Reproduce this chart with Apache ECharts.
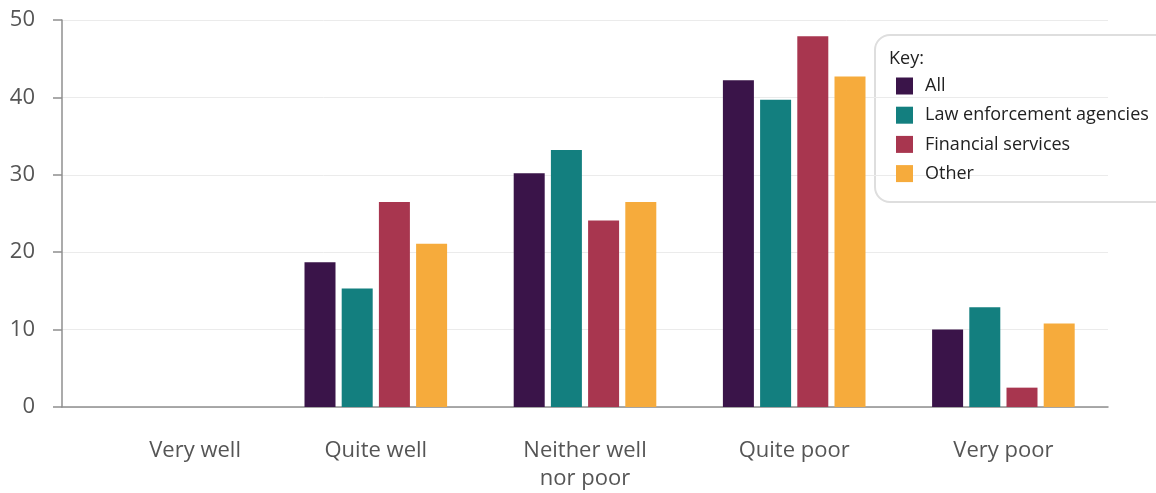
<!DOCTYPE html>
<html>
<head>
<meta charset="utf-8">
<script src="https://cdn.jsdelivr.net/npm/echarts@6/dist/echarts.min.js"></script>
<style>
html,body{margin:0;padding:0;background:#fff;}
#c{width:1156px;height:493px;}
</style>
</head>
<body>
<div id="c"></div>
<script>
var categories = ['Very well', 'Quite well', 'Neither well\nnor poor', 'Quite poor', 'Very poor'];
var seriesNames = ['All', 'Law enforcement agencies', 'Financial services', 'Other'];
var allValues = [0, 18.7, 30.2, 42.2, 10.0];
var lawValues = [0, 15.3, 33.2, 39.7, 12.9];
var finValues = [0, 26.5, 24.1, 47.9, 2.5];
var otherValues = [0, 21.1, 26.5, 42.7, 10.8];
var yTicks = [0, 10, 20, 30, 40, 50];
var colors = ['#3a1449', '#137f7f', '#a8364f', '#f6ab3c'];

var dataSets = [allValues, lawValues, finValues, otherValues];
var font = '"Open Sans", "Noto Sans", sans-serif';

var chart = echarts.init(document.getElementById('c'), null, {renderer: 'canvas'});
chart.setOption({
  animation: false,
  textStyle: {fontFamily: font},
  grid: {left: 62, right: 48, top: 20, bottom: 83, containLabel: false},
  legend: {
    orient: 'vertical',
    left: 896, top: 77,
    itemWidth: 17, itemHeight: 17, itemGap: 11.2,
    icon: 'rect',
    padding: 0,
    textStyle: {fontSize: 18, color: '#222', fontFamily: font, padding: [0, 0, 0, 7]},
    data: seriesNames
  },
  graphic: [
    {type: 'rect', left: 874, top: 34, shape: {width: 300, height: 167, r: 15},
     style: {fill: '#fff', stroke: '#dedede', lineWidth: 2}, z: -1, silent: true},
    {type: 'text', left: 889, top: 50, style: {text: 'Key:', fontSize: 18, fill: '#222', fontFamily: font}, z: 10}
  ],
  xAxis: {
    type: 'category',
    data: categories,
    axisLine: {lineStyle: {color: '#8f8f8f', width: 1.5}},
    axisTick: {show: false},
    axisLabel: {
      fontSize: 22, color: '#555', lineHeight: 28, margin: 30, fontFamily: font,
      formatter: function (v, i) { return i === 0 ? '{a|' + v + '}' : v; },
      rich: {a: {fontSize: 22, color: '#555', lineHeight: 28, padding: [0, 0, 0, 57], fontFamily: font}}
    }
  },
  yAxis: {
    type: 'value',
    min: yTicks[0], max: yTicks[yTicks.length - 1], interval: 10,
    axisLine: {show: true, lineStyle: {color: '#8f8f8f', width: 1.5}},
    axisTick: {show: true, length: 9, lineStyle: {color: '#8f8f8f', width: 1.5}},
    axisLabel: {fontSize: 22, color: '#555', margin: 27, fontFamily: font},
    splitLine: {lineStyle: {color: '#ebebeb', width: 1}}
  },
  series: seriesNames.map(function (n, i) {
    return {
      name: n, type: 'bar', data: dataSets[i],
      barWidth: 31, barGap: '20%',
      itemStyle: {color: colors[i]}
    };
  })
});
</script>
</body>
</html>
